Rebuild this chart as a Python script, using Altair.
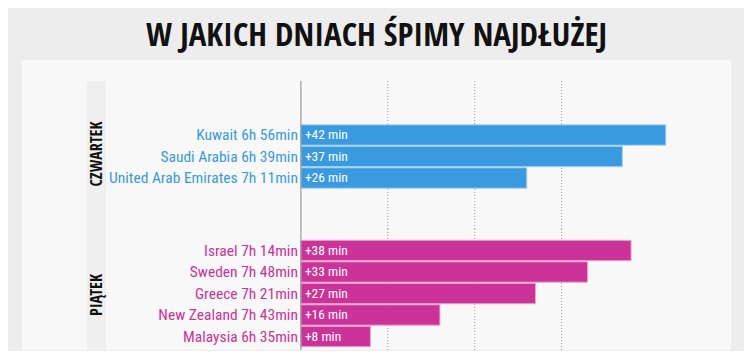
import altair as alt
import pandas as pd

title_text = "W JAKICH DNIACH ŚPIMY NAJDŁUŻEJ"

day_thu = "CZWARTEK"
countries_thu = ["Kuwait", "Saudi Arabia", "United Arab Emirates"]
times_thu = ["6h 56min", "6h 39min", "7h 11min"]
extra_thu = [42, 37, 26]

day_fri = "PIĄTEK"
countries_fri = ["Israel", "Sweden", "Greece", "New Zealand", "Malaysia"]
times_fri = ["7h 14min", "7h 48min", "7h 21min", "7h 43min", "6h 35min"]
extra_fri = [38, 33, 27, 16, 8]

grid_values = [10, 20, 30]

BLUE = "#3a9ae0"
BLUE_EDGE = "#a9d2f3"
PINK = "#cc3399"
PINK_EDGE = "#eaa6d3"
BOLDC = "Open Sans Condensed"
NARROW = "Roboto Condensed"

W = 709
STEP = 21.5
PI = 0.05
xscale = alt.Scale(domain=[-32.1, 49.5], nice=False, zero=False)


def panel(day, names, times, extra, color, edge, height, first_center, top, bottom, day_y):
    df = pd.DataFrame({
        "label": [f"{n} {t}" for n, t in zip(names, times)],
        "extra": extra,
        "txt": [f"+{e} min" for e in extra],
    })
    start = first_center - STEP * (1 - PI) / 2
    end = start + STEP * (len(names) - PI)
    y = alt.Y("label:N", sort=None, axis=None,
              scale=alt.Scale(paddingInner=PI, paddingOuter=0, range=[start, end]))
    base = alt.Chart(df)
    ddf = pd.DataFrame({"day": [day]})

    bg = alt.Chart(ddf).mark_rect(color="#f8f8f8").encode(
        x=alt.value(0), x2=alt.value(W), y=alt.value(min(top, 0)), y2=alt.value(bottom))
    strip = alt.Chart(ddf).mark_rect(color="#efefef").encode(
        x=alt.value(65), x2=alt.value(84), y=alt.value(top), y2=alt.value(bottom))
    grid = alt.Chart(pd.DataFrame({"g": grid_values})).mark_rule(
        color="#9a9a9a", strokeDash=[1, 2], strokeWidth=1).encode(
        x=alt.X("g:Q", scale=xscale, axis=None), y=alt.value(top), y2=alt.value(bottom))
    zero = alt.Chart(pd.DataFrame({"z": [0]})).mark_rule(color="#8a8a8a", strokeWidth=1).encode(
        x=alt.X("z:Q", scale=xscale, axis=None), y=alt.value(top), y2=alt.value(bottom))
    bars = base.mark_bar(color=color, stroke=edge, strokeWidth=1).encode(
        x=alt.X("extra:Q", scale=xscale, axis=None), x2=alt.datum(0), y=y)
    labels = base.mark_text(align="right", baseline="middle", dx=-3, fontSize=15.5,
                            font=NARROW, color=color).encode(
        x=alt.datum(0), y=y, text="label:N")
    vals = base.mark_text(align="left", baseline="middle", dx=4, fontSize=13.5,
                          font=NARROW, color="white").encode(
        x=alt.datum(0), y=y, text="txt:N")
    dayl = alt.Chart(ddf).mark_text(
        angle=270, align="center", baseline="middle", fontSize=16, fontWeight="bold",
        font=BOLDC, color="#111111").encode(
        x=alt.value(75), y=alt.value(day_y), text="day:N")
    return alt.layer(bg, strip, grid, bars, zero, labels, vals, dayl).properties(
        width=W, height=height)


p1 = panel(day_thu, countries_thu, times_thu, extra_thu, BLUE, BLUE_EDGE,
           172, 75, 21, 175, 94)
p2 = panel(day_fri, countries_fri, times_fri, extra_fri, PINK, PINK_EDGE,
           118, 18.5, -3, 118, 63)

chart = alt.vconcat(p1, p2, spacing=0, bounds="flush").resolve_scale(y="independent").properties(
    title=alt.TitleParams(title_text, fontSize=33, font=BOLDC, fontWeight="bold",
                          color="#111111", anchor="middle", offset=7),
    background="#ededed",
    padding={"left": 14, "top": 12, "right": 13, "bottom": 0},
).configure_view(strokeWidth=0)

chart.save("out.html", embed_options={"renderer": "svg", "actions": False})
